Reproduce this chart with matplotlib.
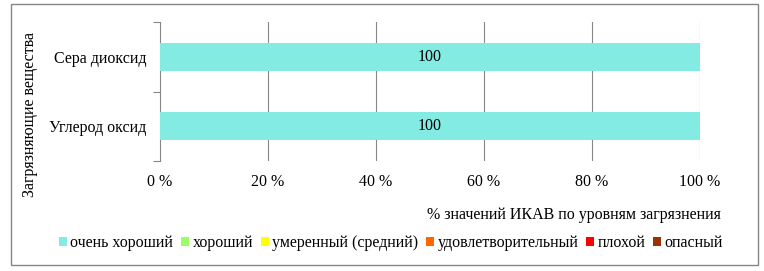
import matplotlib
matplotlib.use("Agg")
import matplotlib.pyplot as plt
from matplotlib.patches import Rectangle, Patch

plt.rcParams['font.family'] = ['Liberation Serif', 'DejaVu Serif']

categories = ["Углерод оксид", "Сера диоксид"]
levels = ["очень хороший", "хороший", "умеренный (средний)",
          "удовлетворительный", "плохой", "опасный"]
colors = ["#83EBE2", "#99FF66", "#FFFF00", "#FF6600", "#FF0000", "#993300"]
values = {
    "очень хороший": [100, 100],
    "хороший": [0, 0],
    "умеренный (средний)": [0, 0],
    "удовлетворительный": [0, 0],
    "плохой": [0, 0],
    "опасный": [0, 0],
}
xticks = [0, 20, 40, 60, 80, 100]
xtick_labels = ["0 %", "20 %", "40 %", "60 %", "80 %", "100 %"]

W, H = 764, 271
fig = plt.figure(figsize=(W / 100, H / 100), dpi=100)
ax = fig.add_axes([160 / W, (H - 161) / H, 540 / W, 139 / H])

fs = 11.5
grey = "#868686"
y = list(range(len(categories)))
left = [0] * len(categories)
for lev, col in zip(levels, colors):
    vals = values[lev]
    bars = ax.barh(y, vals, left=left, height=0.4, color=col, zorder=3)
    for b, v in zip(bars, vals):
        if v > 0:
            ax.text(b.get_x() + b.get_width() / 2, b.get_y() + b.get_height() / 2,
                    f"{v}", ha="center", va="center", fontsize=fs, zorder=4)
    left = [l + v for l, v in zip(left, vals)]

ax.set_xlim(0, 100)
ax.set_ylim(-0.5, len(categories) - 0.5)
ax.set_xticks(xticks)
ax.set_xticklabels(xtick_labels, fontsize=fs)
ax.tick_params(axis="x", length=0, pad=9)
ax.set_yticks(y)
ax.set_yticklabels(categories, fontsize=fs)
ax.tick_params(axis="y", which="major", length=0, pad=10)
ax.set_yticks([-0.5, 0.5, 1.5], minor=True)
ax.tick_params(axis="y", which="minor", length=5, color=grey, width=0.8)
for x in xticks[1:]:
    ax.axvline(x, color=grey, lw=0.8, zorder=1)
for s in ["top", "right", "bottom"]:
    ax.spines[s].set_visible(False)
ax.spines["left"].set_color(grey)
ax.spines["left"].set_linewidth(0.8)

fig.text(721 / W, 1 - 215 / H, "% значений ИКАВ по уровням загрязнения",
         ha="right", va="center", fontsize=fs)
fig.text(30 / W, 1 - 114 / H, "Загрязняющие вещества", rotation=90,
         ha="center", va="center", fontsize=fs)

handles = [Patch(facecolor=c, edgecolor="none") for c in colors]
fig.legend(handles, levels, loc="center", bbox_to_anchor=(391 / W, 1 - 243 / H),
           ncol=6, frameon=False, fontsize=fs, handlelength=0.5, handleheight=0.5,
           handletextpad=0.2, columnspacing=0.5, borderpad=0)

fig.add_artist(Rectangle((10.5 / W, 1 - 265 / H), 747.5 / W, 261 / H,
                         transform=fig.transFigure, fill=False,
                         edgecolor=grey, lw=1))

fig.savefig("out.png", dpi=100)
